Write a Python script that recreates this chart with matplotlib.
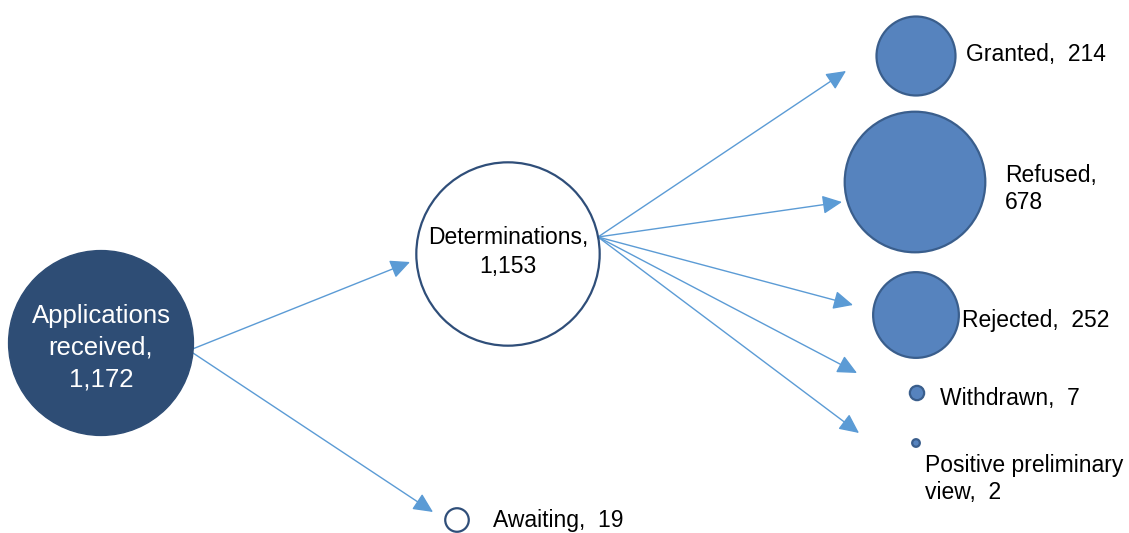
import matplotlib.pyplot as plt
from matplotlib.patches import Circle
import numpy as np

plt.rcParams['font.family'] = ['Liberation Sans', 'DejaVu Sans']

# node data
names = ["Applications received", "Determinations", "Awaiting",
         "Granted", "Refused", "Rejected", "Withdrawn", "Positive preliminary view"]
values = [1172, 1153, 19, 214, 678, 252, 7, 2]

# layout (pixel coords, y downwards)
cx = [101, 508, 457, 916, 915, 916, 917, 916]
cy = [343, 254, 520, 56, 182, 315, 393, 443]
k = 2.7  # radius = k * sqrt(value)

dark = '#2E4D75'
mid = '#5683BE'
edge = '#3A5E8C'
arrow_col = '#5B9BD5'

# arrows: start -> tip
arrows = [((190, 350), (410, 262)),
          ((190, 351), (433, 512)),
          ((598, 237), (846, 71)),
          ((598, 237), (842, 202)),
          ((598, 237), (853, 305)),
          ((598, 237), (857, 373)),
          ((598, 237), (859, 433))]

fig = plt.figure(figsize=(11.29, 5.33), dpi=100)
ax = fig.add_axes([0, 0, 1, 1])
ax.set_xlim(0, 1129)
ax.set_ylim(533, 0)
ax.set_aspect('equal')
ax.axis('off')

faces = [dark, 'white', 'white', mid, mid, mid, mid, mid]
edges = [dark, '#2F4E79', '#2F4E79', edge, edge, edge, edge, edge]
for i in range(len(values)):
    r = k * np.sqrt(values[i])
    ax.add_patch(Circle((cx[i], cy[i]), r, facecolor=faces[i], edgecolor=edges[i],
                        linewidth=1.6 if i != 0 else 1.0, zorder=2))

for s, t in arrows:
    ax.annotate('', xy=t, xytext=s,
                arrowprops=dict(arrowstyle='-|>,head_length=0.8,head_width=0.38',
                                mutation_scale=15, color=arrow_col, lw=1.0,
                                shrinkA=0, shrinkB=0), zorder=1)

ax.text(101, 348, "Applications\nreceived,\n{:,}".format(values[0]), color='white',
        fontsize=18.5, ha='center', va='center', linespacing=1.41, zorder=3)
ax.text(508, 252, "Determinations,\n{:,}".format(values[1]), color='black',
        fontsize=16.5, ha='center', va='center', linespacing=1.38, zorder=3)
ax.text(493, 520, "Awaiting,  {}".format(values[2]), fontsize=16.5, ha='left', va='center')
ax.text(966, 55, "Granted,  {}".format(values[3]), fontsize=16.5, ha='left', va='center')
ax.text(1005, 189, "Refused,\n{}".format(values[4]), fontsize=16.5, ha='left', va='center',
        linespacing=1.2)
ax.text(962, 320, "Rejected,  {}".format(values[5]), fontsize=16.5, ha='left', va='center')
ax.text(940, 398, "Withdrawn,  {}".format(values[6]), fontsize=16.5, ha='left', va='center')
ax.text(925, 479, "Positive preliminary\nview,  {}".format(values[7]), fontsize=16.5,
        ha='left', va='center', linespacing=1.2)

fig.savefig('out.png', dpi=100)
